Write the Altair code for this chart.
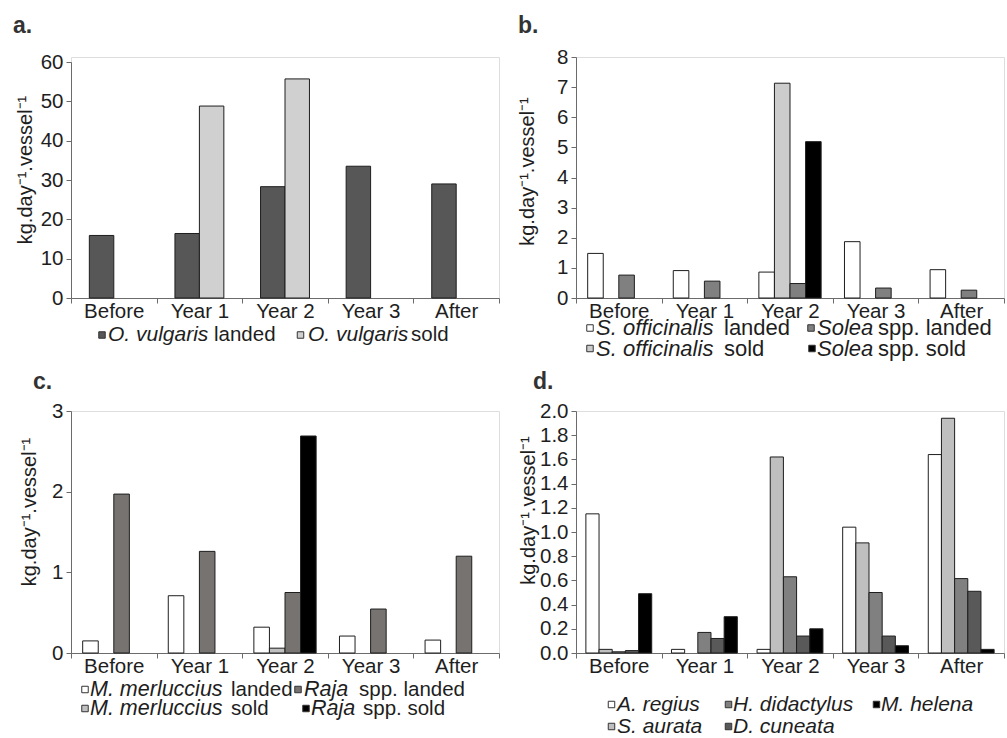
import altair as alt
import pandas as pd

FONT = "Liberation Sans"
INK = "#1e1e1e"
AXIS_GREY = "#6b6b6b"
Y_TITLE = "kg.day⁻¹.vessel⁻¹"

PERIODS = ["Before", "Year 1", "Year 2", "Year 3", "After"]

# a. Octopus
A_SERIES = ["O. vulgaris landed", "O. vulgaris sold"]
A_ITALIC = ["O. vulgaris", "O. vulgaris"]
A_ROMAN = ["landed", "sold"]
A_LANDED = [15.9, 16.4, 28.3, 33.5, 29.0]
A_SOLD = [0, 48.8, 55.7, 0, 0]
A_COLORS = ["#575757", "#d0d0d0"]

# b. Cuttlefish and soles
B_SERIES = ["S. officinalis landed", "S. officinalis sold", "Solea spp. landed", "Solea spp. sold"]
B_ITALIC = ["S. officinalis", "S. officinalis", "Solea", "Solea"]
B_ROMAN = ["landed", "sold", "spp. landed", "spp. sold"]
B_OFF_LANDED = [1.48, 0.91, 0.86, 1.87, 0.94]
B_OFF_SOLD = [0, 0, 7.13, 0, 0]
B_SOL_LANDED = [0.76, 0.56, 0.48, 0.33, 0.26]
B_SOL_SOLD = [0, 0, 5.19, 0, 0]
B_COLORS = ["#ffffff", "#cccccc", "#808080", "#000000"]

# c. Hake and rays
C_SERIES = ["M. merluccius landed", "M. merluccius sold", "Raja spp. landed", "Raja spp. sold"]
C_ITALIC = ["M. merluccius", "M. merluccius", "Raja", "Raja"]
C_ROMAN = ["landed", "sold", "spp. landed", "spp. sold"]
C_MER_LANDED = [0.15, 0.71, 0.32, 0.21, 0.16]
C_MER_SOLD = [0, 0, 0.06, 0, 0]
C_RAJ_LANDED = [1.97, 1.26, 0.75, 0.545, 1.20]
C_RAJ_SOLD = [0, 0, 2.69, 0, 0]
C_COLORS = ["#ffffff", "#c0c0c0", "#777371", "#000000"]

# d. Other species
D_SERIES = ["A. regius", "S. aurata", "H. didactylus", "D. cuneata", "M. helena"]
D_ITALIC = ["A. regius", "S. aurata", "H. didactylus", "D. cuneata", "M. helena"]
D_ROMAN = ["", "", "", "", ""]
D_REGIUS = [1.15, 0.03, 0.03, 1.04, 1.64]
D_AURATA = [0.03, 0, 1.62, 0.91, 1.94]
D_DIDACTYLUS = [0.01, 0.17, 0.63, 0.50, 0.615]
D_CUNEATA = [0.02, 0.12, 0.14, 0.14, 0.51]
D_HELENA = [0.49, 0.30, 0.20, 0.06, 0.03]
D_COLORS = ["#ffffff", "#bfbfbf", "#808080", "#595959", "#000000"]

PANEL_LETTERS = ["a.", "b.", "c.", "d."]

PLOT_W = 428
TOP_H = 241
BOT_H = 242


def bar_panel(series, columns, colors, italic, roman, ymax, yticks, yfmt, yrange,
              height, title_xy, letter, letter_xy, legend_layout, legend_sizes):
    rows = []
    for s, col in zip(series, columns):
        for p, v in zip(PERIODS, col):
            rows.append({"period": p, "series": s, "value": v})
    df = pd.DataFrame(rows)

    fill_scale = alt.Scale(domain=series, range=colors)

    bars = alt.Chart(df).transform_filter("datum.value > 0").mark_bar(
        stroke=INK, strokeWidth=1
    ).encode(
        x=alt.X("period:N", sort=PERIODS,
                scale=alt.Scale(domain=PERIODS, paddingInner=0, paddingOuter=0),
                axis=alt.Axis(title=None, labelAngle=0, labelFontSize=20.5, labelFont=FONT,
                              labelColor=INK, labelPadding=-2, tickSize=5, tickBand="extent",
                              tickColor=AXIS_GREY, domainColor=AXIS_GREY, grid=False)),
        xOffset=alt.XOffset("series:N", sort=series,
                            scale=alt.Scale(domain=series, paddingInner=0, paddingOuter=0.75)),
        y=alt.Y("value:Q",
                scale=alt.Scale(domain=[0, ymax], range=yrange, nice=False, zero=True),
                axis=alt.Axis(title=Y_TITLE, values=yticks, format=yfmt, grid=False,
                              labelFontSize=20.5, labelFont=FONT, labelColor=INK, labelPadding=3,
                              tickSize=5, tickColor=AXIS_GREY, domainColor=AXIS_GREY,
                              titleFont=FONT, titleFontSize=20, titleFontWeight="normal",
                              titleColor=INK, titleAngle=270, titleAlign="center",
                              titleBaseline="middle", titleX=title_xy[0], titleY=title_xy[1])),
        fill=alt.Fill("series:N", scale=fill_scale, legend=None),
    )

    sx, tx, rx, ly = legend_layout
    it_size, ro_size = legend_sizes
    leg = pd.DataFrame({"series": series, "italic": italic, "roman": roman,
                        "sx": sx, "tx": tx, "rx": rx, "ly": ly})
    px = lambda f: alt.X(f"{f}:Q", scale=None, axis=None)
    py = alt.Y("ly:Q", scale=None, axis=None)

    symbols = alt.Chart(leg).mark_square(size=42, stroke="#333333", strokeWidth=1, opacity=1).encode(
        x=px("sx"), y=py, fill=alt.Fill("series:N", scale=fill_scale, legend=None)
    )
    it_text = alt.Chart(leg).mark_text(
        align="left", baseline="middle", font=FONT, fontSize=it_size, fontStyle="italic", color=INK
    ).encode(x=px("tx"), y=py, text="italic:N")
    ro_text = alt.Chart(leg).transform_filter("datum.roman != ''").mark_text(
        align="left", baseline="middle", font=FONT, fontSize=ro_size, color=INK
    ).encode(x=px("rx"), y=py, text="roman:N")

    lab = pd.DataFrame({"t": [letter], "x": [letter_xy[0]], "y": [letter_xy[1]]})
    letter_mark = alt.Chart(lab).mark_text(
        align="left", baseline="alphabetic", font=FONT, fontSize=23, fontWeight="bold", color="#333333"
    ).encode(x=alt.X("x:Q", scale=None, axis=None), y=alt.Y("y:Q", scale=None, axis=None), text="t:N")

    return alt.layer(bars, symbols, it_text, ro_text, letter_mark).resolve_scale(
        x="independent", y="independent"
    ).properties(width=PLOT_W, height=height)


panel_a = bar_panel(
    A_SERIES, [A_LANDED, A_SOLD], A_COLORS, A_ITALIC, A_ROMAN,
    60, list(range(0, 61, 10)), "d", [TOP_H, 5], TOP_H, (-46, 112.5),
    PANEL_LETTERS[0], (-58, -24),
    ([31, 229.5], [37, 237], [143, 340], [278, 278]), (21, 20.5),
)
panel_b = bar_panel(
    B_SERIES, [B_OFF_LANDED, B_OFF_SOLD, B_SOL_LANDED, B_SOL_SOLD], B_COLORS, B_ITALIC, B_ROMAN,
    8, list(range(0, 9)), "d", [TOP_H, 0], TOP_H, (-48.5, 114),
    PANEL_LETTERS[1], (-58, -24),
    ([14, 14, 235, 236], [20, 20, 241, 241], [148, 148, 302, 302], [271, 291.5, 271, 291.5]),
    (22, 22),
)
panel_c = bar_panel(
    C_SERIES, [C_MER_LANDED, C_MER_SOLD, C_RAJ_LANDED, C_RAJ_SOLD], C_COLORS, C_ITALIC, C_ROMAN,
    3, [0, 1, 2, 3], "d", [BOT_H, 0], BOT_H, (-42, 100.5),
    PANEL_LETTERS[2], (-38, -22),
    ([14, 14, 227, 235], [19, 19, 233, 240], [160, 160, 288, 292], [278.5, 297.5, 278.5, 297.5]),
    (21.5, 20.5),
)
panel_d = bar_panel(
    D_SERIES, [D_REGIUS, D_AURATA, D_DIDACTYLUS, D_CUNEATA, D_HELENA], D_COLORS, D_ITALIC, D_ROMAN,
    2, [round(0.2 * i, 1) for i in range(11)], ".1f", [BOT_H, 0], BOT_H, (-48, 99),
    PANEL_LETTERS[3], (-43, -22),
    ([35.5, 35.5, 152.5, 152.5, 300.5], [41, 41, 157, 157, 305], [0, 0, 0, 0, 0],
     [293.5, 315.5, 293.5, 315.5, 293.5]),
    (21, 21),
)

chart = alt.concat(
    panel_a, panel_b, panel_c, panel_d,
    columns=2, spacing={"row": 113, "column": 77}, bounds="flush",
).resolve_scale(
    fill="independent", xOffset="independent"
).properties(
    padding={"left": 12, "top": 14, "right": 0, "bottom": 0},
    background="white",
).configure_view(stroke=None).configure(font=FONT)

chart.save("out.html", embed_options={"renderer": "svg", "actions": False})
